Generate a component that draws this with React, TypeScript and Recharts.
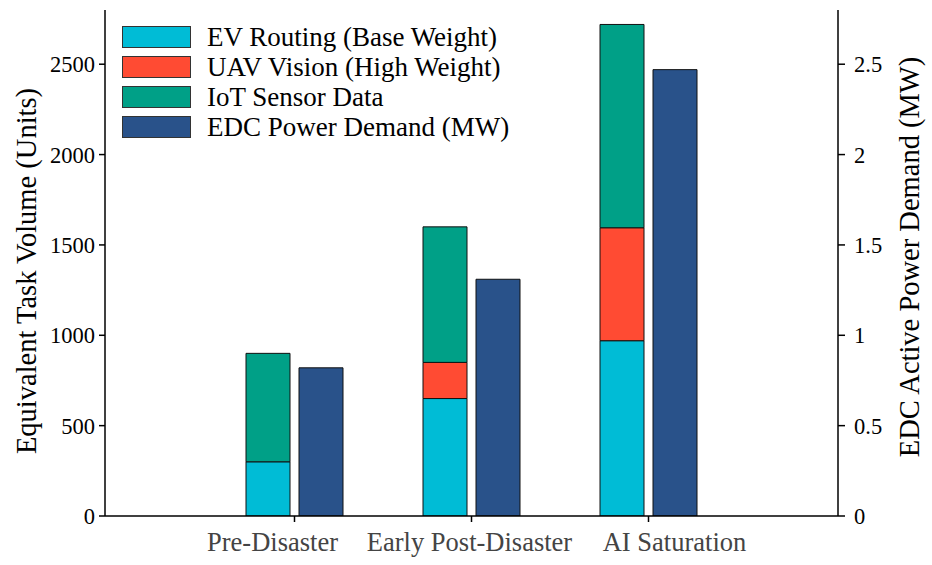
import React from 'react';
import { BarChart, Bar, XAxis, YAxis, Legend, Label } from 'recharts';

const categories = ['Pre-Disaster', 'Early Post-Disaster', 'AI Saturation'];
const evRouting = [300, 650, 970];
const uavVision = [0, 200, 625];
const iotSensor = [600, 750, 1125];
const powerDemand = [0.82, 1.31, 2.47];
const leftTicks = [0, 500, 1000, 1500, 2000, 2500];
const rightTicks = [0, 0.5, 1, 1.5, 2, 2.5];

const COLORS = {
  ev: '#00BCD6',
  uav: '#FF4B33',
  iot: '#00A087',
  power: '#29528A',
};

const legendItems = [
  { label: 'EV Routing (Base Weight)', color: COLORS.ev },
  { label: 'UAV Vision (High Weight)', color: COLORS.uav },
  { label: 'IoT Sensor Data', color: COLORS.iot },
  { label: 'EDC Power Demand (MW)', color: COLORS.power },
];

const chartData = categories.map((name, i) => ({
  name,
  ev: evRouting[i],
  uav: uavVision[i],
  iot: iotSensor[i],
  power: powerDemand[i],
}));

const FONT = '"Liberation Serif", "Times New Roman", serif';

// the category labels in the source sit slightly off their ticks
const labelShift = [-22, -2, 26];

const LegendBox = () => (
  <div style={{ fontFamily: FONT }}>
    {legendItems.map((item) => (
      <div key={item.label} style={{ display: 'flex', alignItems: 'center', height: 30 }}>
        <div
          style={{
            width: 67,
            height: 20,
            background: item.color,
            border: '1px solid #333',
            flex: 'none',
          }}
        />
        <span style={{ marginLeft: 16, fontSize: 27, lineHeight: '30px', color: '#000', whiteSpace: 'nowrap' }}>
          {item.label}
        </span>
      </div>
    ))}
  </div>
);

const CategoryTick = (props: any) => {
  const { x, y, payload, index } = props;
  return (
    <text
      x={x + (labelShift[index] || 0)}
      y={y}
      dy={27}
      textAnchor="middle"
      fill="#444"
      fontSize={26.5}
      fontFamily={FONT}
    >
      {payload.value}
    </text>
  );
};

const makeTitle = (text: string, cx: number, cy: number) => () => (
  <text
    x={cx}
    y={cy}
    transform={`rotate(-90 ${cx} ${cy})`}
    textAnchor="middle"
    dominantBaseline="central"
    fontSize={28.5}
    fontFamily={FONT}
    fill="#000"
  >
    {text}
  </text>
);

const leftTitle = makeTitle('Equivalent Task Volume (Units)', 26, 271);
const rightTitle = makeTitle('EDC Active Power Demand (MW)', 909, 257);

export default function App() {
  const tickStyle = { fill: '#000', fontSize: 22.5, fontFamily: FONT };
  return (
    <div style={{ position: 'absolute', left: 0, top: 0, width: 932, height: 565, background: '#fff' }}>
      <BarChart
        width={932}
        height={565}
        data={chartData}
        margin={{ top: 10, right: 0, left: 0, bottom: 0 }}
        barGap={9}
      >
        <XAxis
          dataKey="name"
          height={49}
          padding={{ left: 101, right: 101 }}
          axisLine={{ stroke: '#000', strokeWidth: 1.5 }}
          tickLine={{ stroke: '#000', strokeWidth: 1.5 }}
          tickSize={6}
          tick={<CategoryTick />}
          interval={0}
        />
        <YAxis
          yAxisId="left"
          width={105}
          domain={[0, 2800]}
          ticks={leftTicks}
          allowDataOverflow
          axisLine={{ stroke: '#000', strokeWidth: 1.5 }}
          tickLine={{ stroke: '#000', strokeWidth: 1.5 }}
          tickSize={6}
          tickMargin={4}
          tick={tickStyle}
        >
          <Label content={leftTitle} />
        </YAxis>
        <YAxis
          yAxisId="right"
          orientation="right"
          width={94}
          domain={[0, 2.8]}
          ticks={rightTicks}
          allowDataOverflow
          axisLine={{ stroke: '#000', strokeWidth: 1.5 }}
          tickLine={{ stroke: '#000', strokeWidth: 1.5 }}
          tickSize={7}
          tickMargin={9}
          tick={tickStyle}
        >
          <Label content={rightTitle} />
        </YAxis>
        <Legend
          layout="vertical"
          align="center"
          verticalAlign="middle"
          wrapperStyle={{ left: 122, top: 22, width: 'auto' }}
          content={<LegendBox />}
        />
        <Bar yAxisId="left" dataKey="ev" stackId="tasks" barSize={44} fill={COLORS.ev} stroke="#111" strokeWidth={1} isAnimationActive={false} />
        <Bar yAxisId="left" dataKey="uav" stackId="tasks" barSize={44} fill={COLORS.uav} stroke="#111" strokeWidth={1} isAnimationActive={false} />
        <Bar yAxisId="left" dataKey="iot" stackId="tasks" barSize={44} fill={COLORS.iot} stroke="#111" strokeWidth={1} isAnimationActive={false} />
        <Bar yAxisId="right" dataKey="power" barSize={44} fill={COLORS.power} stroke="#111" strokeWidth={1} isAnimationActive={false} />
      </BarChart>
    </div>
  );
}
